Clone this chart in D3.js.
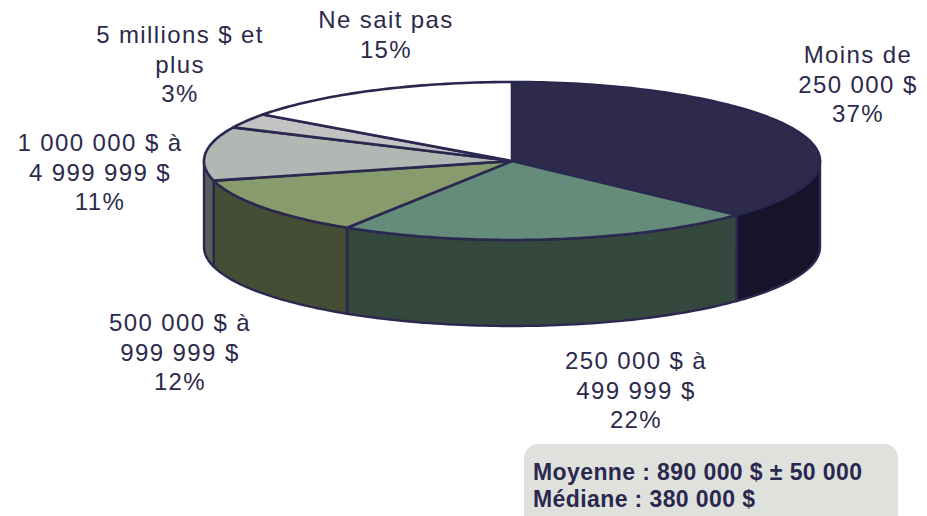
<!DOCTYPE html>
<html>
<head>
<meta charset="utf-8">
<script src="https://cdn.jsdelivr.net/npm/d3@7"></script>
<style>
  body { margin: 0; background: #fff; }
  svg { display: block; }
</style>
</head>
<body>
<svg id="chart"></svg>
<script>
const W = 927, H = 516

// data
const categories = ['Moins de 250 000 $', '250 000 $ à 499 999 $', '500 000 $ à 999 999 $',
  '1 000 000 $ à 4 999 999 $', '5 millions $ et plus', 'Ne sait pas']
const values = [37, 22, 12, 11, 3, 15]
const labelLines = [
  ['Moins de', '250 000 $', '37%'],
  ['250 000 $ à', '499 999 $', '22%'],
  ['500 000 $ à', '999 999 $', '12%'],
  ['1 000 000 $ à', '4 999 999 $', '11%'],
  ['5 millions $ et', 'plus', '3%'],
  ['Ne sait pas', '15%']
]
const statLines = ['Moyenne : 890 000 $ ± 50 000', 'Médiane : 380 000 $']

const topColors  = ['#2d2a4b', '#658c7a', '#879b6c', '#b1b8b4', '#c3c3c3', '#ffffff']
const sideColors = ['#16142a', '#35483e', '#454e34', '#5b5d5c', '#6e6e6e', '#cccccc']
const labelPos = [[858, 63], [636, 369], [180, 331], [100, 151], [180, 43], [386, 28]]

const cx = 512, cy = 161, rx = 308, ry = 79, depth = 86
const ink = '#2b2850'

const svg = d3.select('#chart').attr('width', W).attr('height', H)

const pie = d3.pie().sort(null).value(d => d)
const arcs = pie(values)

// angle 0 = back (top of ellipse), clockwise
const px = a => cx + rx * Math.sin(a)
const py = (a, dz = 0) => cy - ry * Math.cos(a) + dz

function arcPts(a0, a1, dz) {
  const n = Math.max(2, Math.ceil(Math.abs(a1 - a0) / 0.02))
  return d3.range(n + 1).map(i => {
    const a = a0 + (a1 - a0) * i / n
    return [px(a), py(a, dz)]
  })
}

const line = d3.line()

// side walls (front half only)
const sides = svg.append('g')
arcs.forEach((d, i) => {
  const a0 = Math.max(d.startAngle, Math.PI / 2)
  const a1 = Math.min(d.endAngle, Math.PI * 3 / 2)
  if (a1 <= a0) return
  const pts = arcPts(a0, a1, 0).concat(arcPts(a1, a0, depth))
  sides.append('path')
    .attr('d', line(pts) + 'Z')
    .attr('fill', sideColors[i])
    .attr('stroke', ink)
    .attr('stroke-width', 2.4)
    .attr('stroke-linejoin', 'round')
})

// top faces
const tops = svg.append('g')
arcs.forEach((d, i) => {
  const pts = [[cx, cy]].concat(arcPts(d.startAngle, d.endAngle, 0))
  tops.append('path')
    .attr('d', line(pts) + 'Z')
    .attr('fill', topColors[i])
    .attr('stroke', ink)
    .attr('stroke-width', 2.6)
    .attr('stroke-linejoin', 'round')
})

// labels
const lbl = svg.append('g')
  .attr('font-family', 'Liberation Sans, Arial, sans-serif')
  .attr('font-size', '24px')
  .attr('letter-spacing', '1.4px')
  .attr('fill', '#2b2a4a')
  .attr('text-anchor', 'middle')
labelLines.forEach((lines, i) => {
  const t = lbl.append('text')
    .attr('x', labelPos[i][0])
    .attr('y', labelPos[i][1])
  lines.forEach((s, j) => {
    t.append('tspan').attr('x', labelPos[i][0]).attr('dy', j ? 29.5 : 0).text(s)
  })
})

// stats box
svg.append('rect')
  .attr('x', 524).attr('y', 444)
  .attr('width', 374).attr('height', 100)
  .attr('rx', 14)
  .attr('fill', '#dfe2dc')

svg.append('g')
  .attr('font-family', 'Liberation Sans, Arial, sans-serif')
  .attr('font-size', '23px')
  .attr('letter-spacing', '0.4px')
  .attr('font-weight', 'bold')
  .attr('fill', '#2b2850')
  .selectAll('text')
  .data(statLines)
  .join('text')
    .attr('x', 533)
    .attr('y', (d, i) => 480 + i * 27)
    .text(d => d)
</script>
</body>
</html>
